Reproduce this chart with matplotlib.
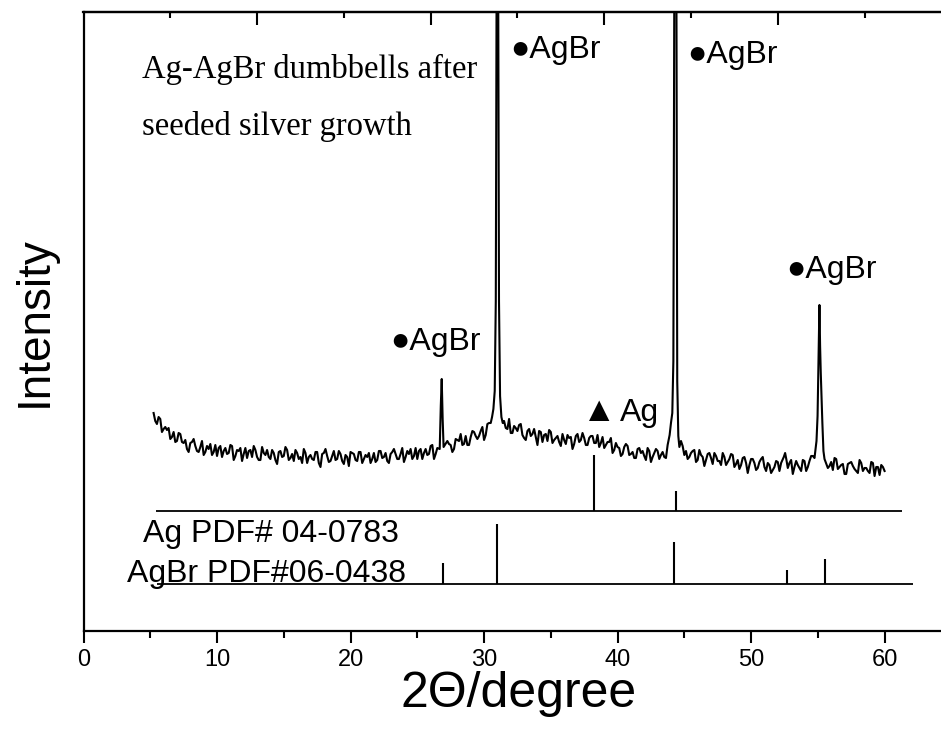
import matplotlib
matplotlib.use("Agg")
import matplotlib.pyplot as plt
from matplotlib.ticker import FixedLocator, NullFormatter

# XRD scan, background part (2theta in degrees, intensity in arbitrary units)
bg_2theta = [
    5.25, 5.5, 5.75, 6.0, 6.25, 6.5, 6.75, 7.0, 7.25, 7.5, 7.75, 8.0, 8.25, 8.5, 8.75,
    9.0, 9.25, 9.5, 9.75, 10.0, 10.25, 10.5, 10.75, 11.0, 11.25, 11.5, 11.75, 12.0,
    12.25, 12.5, 12.75, 13.0, 13.25, 13.5, 13.75, 14.0, 14.25, 14.5, 14.75, 15.0,
    15.25, 15.5, 15.75, 16.0, 16.25, 16.5, 16.75, 17.0, 17.25, 17.5, 17.75, 18.0,
    18.25, 18.5, 18.75, 19.0, 19.25, 19.5, 19.75, 20.0, 20.25, 20.5, 20.75, 21.0,
    21.25, 21.5, 21.75, 22.0, 22.25, 22.5, 22.75, 23.0, 23.25, 23.5, 23.75, 24.0,
    24.25, 24.5, 24.75, 25.0, 25.25, 25.5, 25.75, 26.0, 26.25, 26.5,
    27.25, 27.5, 27.75, 28.0, 28.25, 28.5, 28.75, 29.0, 29.25, 29.5, 29.75, 30.0,
    30.25, 30.5,
    31.5, 31.75, 32.0, 32.25, 32.5, 32.75, 33.0, 33.25, 33.5, 33.75, 34.0, 34.25,
    34.5, 34.75, 35.0, 35.25, 35.5, 35.75, 36.0, 36.25, 36.5, 36.75, 37.0, 37.25,
    37.5, 37.75, 38.0, 38.25, 38.5, 38.75, 39.0, 39.25, 39.5, 39.75, 40.0, 40.25,
    40.5, 40.75, 41.0, 41.25, 41.5, 41.75, 42.0, 42.25, 42.5, 42.75, 43.0, 43.25,
    43.5, 43.75,
    44.75, 45.0, 45.25, 45.5, 45.75, 46.0, 46.25, 46.5, 46.75, 47.0, 47.25, 47.5,
    47.75, 48.0, 48.25, 48.5, 48.75, 49.0, 49.25, 49.5, 49.75, 50.0, 50.25, 50.5,
    50.75, 51.0, 51.25, 51.5, 51.75, 52.0, 52.25,
    52.75, 53.0, 53.25, 53.5, 53.75, 54.0, 54.25, 54.5, 54.75,
    55.75, 56.0, 56.25, 56.5, 56.75, 57.0, 57.25, 57.5, 57.75, 58.0, 58.25, 58.5,
    58.75, 59.0, 59.25, 59.5, 59.75, 60.0,
]
bg_counts = [
    218, 207, 212, 202, 201, 192, 199, 190, 197, 188, 182, 188, 192, 180, 184,
    176, 185, 187, 179, 175, 185, 180, 177, 186, 171, 181, 183, 177,
    173, 181, 185, 174, 171, 178, 181, 172, 178, 167, 180, 175,
    181, 173, 170, 178, 174, 182, 168, 176, 171, 179, 164, 178,
    175, 170, 180, 172, 177, 167, 174, 179, 177, 170, 179, 172,
    174, 168, 178, 171, 180, 174, 170, 177, 182, 172, 177, 169,
    180, 182, 175, 172, 182, 178, 176, 185, 172, 183,
    190, 186, 182, 191, 197, 187, 186, 194, 199, 192, 200, 191,
    207, 208,
    210, 202, 198, 205, 200, 207, 193, 200, 195, 202, 186, 199,
    196, 190, 199, 191, 195, 185, 191, 196, 194, 187, 197, 191,
    193, 186, 195, 188, 196, 188, 183, 189, 193, 181, 184, 175,
    184, 185, 177, 173, 182, 178, 175, 183, 169, 178, 180, 176,
    174, 186,
    190, 176, 172, 178, 181, 171, 176, 165, 177, 173, 178, 170,
    166, 174, 169, 177, 164, 171, 166, 174, 158, 172, 168, 163,
    172, 164, 168, 158, 164, 169, 168,
    163, 171, 164, 166, 160, 170, 164, 175, 173,
    163, 169, 173, 162, 166, 157, 167, 169, 162, 158, 168, 163,
    160, 169, 155, 164, 166, 160,
]

# XRD scan, in-between background readings
mid_2theta = [
    5.375, 5.625, 5.875, 6.125, 6.375, 6.625, 6.875, 7.125, 7.375, 7.625, 7.875,
    8.125, 8.375, 8.625, 8.875, 9.125, 9.375, 9.625, 9.875, 10.125, 10.375, 10.625,
    10.875, 11.125, 11.375, 11.625, 11.875, 12.125, 12.375, 12.625, 12.875, 13.125,
    13.375, 13.625, 13.875, 14.125, 14.375, 14.625, 14.875, 15.125, 15.375, 15.625,
    15.875, 16.125, 16.375, 16.625, 16.875, 17.125, 17.375, 17.625, 17.875, 18.125,
    18.375, 18.625, 18.875, 19.125, 19.375, 19.625, 19.875, 20.125, 20.375, 20.625,
    20.875, 21.125, 21.375, 21.625, 21.875, 22.125, 22.375, 22.625, 22.875, 23.125,
    23.375, 23.625, 23.875, 24.125, 24.375, 24.625, 24.875, 25.125, 25.375, 25.625,
    25.875, 26.125, 26.375,
    27.375, 27.625, 27.875, 28.125, 28.375, 28.625, 28.875, 29.125, 29.375, 29.625,
    29.875, 30.125, 30.375,
    31.625, 31.875, 32.125, 32.375, 32.625, 32.875, 33.125, 33.375, 33.625, 33.875,
    34.125, 34.375, 34.625, 34.875, 35.125, 35.375, 35.625, 35.875, 36.125, 36.375,
    36.625, 36.875, 37.125, 37.375, 37.625, 37.875, 38.125, 38.375, 38.625, 38.875,
    39.125, 39.375, 39.625, 39.875, 40.125, 40.375, 40.625, 40.875, 41.125, 41.375,
    41.625, 41.875, 42.125, 42.375, 42.625, 42.875, 43.125, 43.375, 43.625,
    44.875, 45.125, 45.375, 45.625, 45.875, 46.125, 46.375, 46.625, 46.875, 47.125,
    47.375, 47.625, 47.875, 48.125, 48.375, 48.625, 48.875, 49.125, 49.375, 49.625,
    49.875, 50.125, 50.375, 50.625, 50.875, 51.125, 51.375, 51.625, 51.875, 52.125,
    52.875, 53.125, 53.375, 53.625, 53.875, 54.125, 54.375, 54.625,
    55.875, 56.125, 56.375, 56.625, 56.875, 57.125, 57.375, 57.625, 57.875, 58.125,
    58.375, 58.625, 58.875, 59.125, 59.375, 59.625, 59.875,
]
mid_counts = [
    210, 214, 199, 204, 203, 194, 189, 198, 189, 191, 179,
    189, 185, 179, 190, 179, 182, 176, 186, 183, 174, 183,
    178, 185, 175, 180, 170, 183, 180, 174, 181, 171,
    184, 176, 174, 181, 171, 179, 174, 184, 171, 177,
    181, 172, 168, 178, 174, 172, 179, 168, 177, 182,
    169, 175, 171, 180, 170, 176, 165, 178, 171, 179,
    168, 176, 178, 172, 169, 180, 173, 178, 168, 179,
    177, 172, 183, 174, 177, 172, 183, 180, 172, 182,
    177, 186, 177,
    187, 179, 192, 190, 186, 195, 186, 200, 195, 195,
    204, 196, 208,
    203, 212, 198, 203, 206, 196, 191, 202, 197, 194,
    200, 189, 197, 201, 188, 193, 189, 197, 187, 193,
    182, 195, 189, 198, 186, 193, 195, 188, 184, 194,
    186, 189, 178, 188, 183, 177, 187, 176, 179, 173,
    183, 180, 171, 180, 174, 182, 172, 179, 173,
    185, 180, 174, 180, 169, 181, 174, 171, 178, 167,
    175, 170, 178, 166, 172, 176, 167, 162, 173, 168,
    166, 172, 161, 169, 174, 160, 166, 161, 170, 160,
    168, 157, 170, 163, 171, 160, 170, 175,
    165, 161, 172, 164, 167, 157, 168, 165, 160, 171,
    160, 163, 158, 168, 164, 156, 164,
]

# XRD scan, points across the diffraction peaks
peak_2theta = [
    26.68, 26.76, 26.83, 26.9, 26.97,
    30.6, 30.7, 30.8, 30.88, 30.95, 31.05, 31.12, 31.2, 31.3, 31.4,
    43.9, 44.0, 44.1, 44.18, 44.26, 44.4, 44.47, 44.55, 44.63,
    52.45, 52.55, 52.65,
    54.9, 54.98, 55.05, 55.12, 55.17, 55.22, 55.28, 55.34, 55.42, 55.5,
]
peak_counts = [
    182, 225, 252, 212, 184,
    214, 222, 240, 330, 700, 700, 330, 235, 214, 208,
    196, 208, 218, 270, 700, 700, 250, 195, 184,
    174, 178, 171,
    190, 215, 270, 326, 285, 258, 232, 208, 180, 172,
]

# reference patterns (stick positions and heights)
ag_ref_2theta = [38.2, 44.4]
ag_ref_height = [56, 20]
agbr_ref_2theta = [26.9, 31.0, 44.2, 52.7, 55.5]
agbr_ref_height = [21, 60, 42, 14, 25]
ag_ref_base = 120
agbr_ref_base = 47

x_ticks = [0, 10, 20, 30, 40, 50, 60]
x_minor = [5, 15, 25, 35, 45, 55]
top_major = [13, 26, 39, 52]
top_minor = [6.5, 19.5, 32.5, 45.5, 58.5]

SANS = ['Liberation Sans', 'DejaVu Sans']
SERIF = ['Liberation Serif', 'DejaVu Serif']


def main():
    scan = sorted(zip(bg_2theta + mid_2theta + peak_2theta,
                      bg_counts + mid_counts + peak_counts))
    tt = [p[0] for p in scan]
    cc = [p[1] for p in scan]

    fig = plt.figure(figsize=(9.41, 7.42), dpi=100)
    ax = fig.add_axes([83.5 / 941, 111 / 742, 858.5 / 941, 619.3 / 742])

    ax.plot(tt, cc, color='black', linewidth=1.5)

    # reference stick patterns
    ax.hlines(ag_ref_base, 5.4, 61.3, color='black', linewidth=1.3)
    ax.vlines(ag_ref_2theta, ag_ref_base,
              [ag_ref_base + h for h in ag_ref_height], color='black', linewidth=1.5)
    ax.hlines(agbr_ref_base, 5.5, 62.1, color='black', linewidth=1.3)
    ax.vlines(agbr_ref_2theta, agbr_ref_base,
              [agbr_ref_base + h for h in agbr_ref_height], color='black', linewidth=1.5)

    ax.set_xlim(0, 64.3)
    ax.set_ylim(0, 619.3)

    # annotations
    ax.text(4.36, 553, 'Ag-AgBr dumbbells after', family=SERIF, fontsize=23.5, va='baseline')
    ax.text(4.36, 496, 'seeded silver growth', family=SERIF, fontsize=23.5, va='baseline')
    ax.text(23.0, 281, '\u25cfAgBr', family=SANS, fontsize=23, va='baseline')
    ax.text(32.0, 573, '\u25cfAgBr', family=SANS, fontsize=23, va='baseline')
    ax.text(45.2, 568, '\u25cfAgBr', family=SANS, fontsize=23, va='baseline')
    ax.text(52.6, 353, '\u25cfAgBr', family=SANS, fontsize=23, va='baseline')
    ax.text(37.3, 210, '\u25b2', family=SANS, fontsize=25, va='baseline')
    ax.text(40.2, 210, 'Ag', family=SANS, fontsize=23, va='baseline')
    ax.text(4.46, 89, 'Ag PDF# 04-0783', family=SANS, fontsize=23, va='baseline')
    ax.text(3.25, 49, 'AgBr PDF#06-0438', family=SANS, fontsize=23, va='baseline')

    # axes styling
    for side in ['left', 'bottom', 'top']:
        ax.spines[side].set_linewidth(1.6)
    ax.spines['right'].set_visible(False)
    ax.set_yticks([])
    ax.xaxis.set_major_locator(FixedLocator(x_ticks))
    ax.xaxis.set_minor_locator(FixedLocator(x_minor))
    ax.tick_params(axis='x', which='major', direction='out', length=8.6, width=1.5,
                   pad=4, labelsize=17)
    ax.tick_params(axis='x', which='minor', direction='out', length=5, width=1.5)
    for lab in ax.get_xticklabels():
        lab.set_family(SANS)

    top = ax.secondary_xaxis('top')
    top.xaxis.set_major_locator(FixedLocator(top_major))
    top.xaxis.set_minor_locator(FixedLocator(top_minor))
    top.xaxis.set_major_formatter(NullFormatter())
    top.tick_params(axis='x', which='major', direction='in', length=9.4, width=1.5)
    top.tick_params(axis='x', which='minor', direction='in', length=4.3, width=1.5)
    top.spines['top'].set_linewidth(1.6)

    ax.set_xlabel('2\u0398/degree', family=SANS, fontsize=36, va='baseline')
    ax.xaxis.set_label_coords(0.507, -0.1227)
    ax.set_ylabel('Intensity', family=SANS, fontsize=33, va='center')
    ax.yaxis.set_label_coords(-0.0565, 0.5)

    plt.savefig('out.png', dpi=100)


if __name__ == "__main__":
    main()
